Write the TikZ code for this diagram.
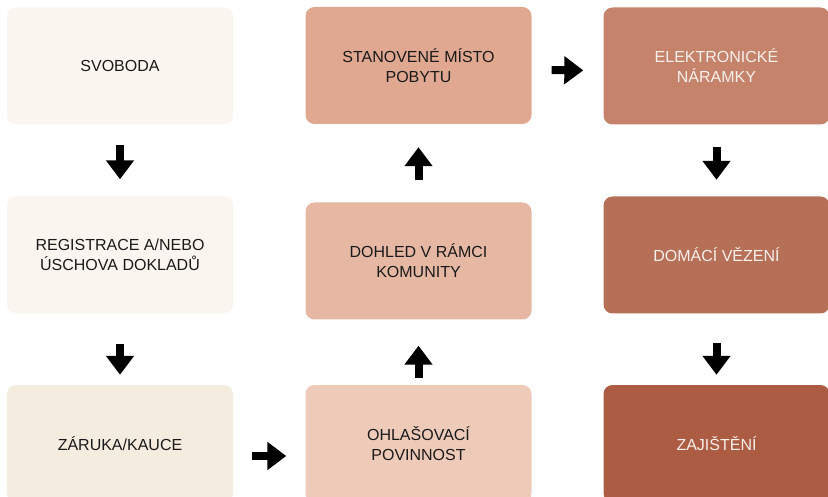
\documentclass[tikz,border=0pt]{standalone}
\usepackage{fontspec}
\setmainfont{Liberation Sans}
\usetikzlibrary{arrows.meta}

\definecolor{svobodabg}{HTML}{FAF5EF}
\definecolor{registracebg}{HTML}{FAF5EF}
\definecolor{zarukabg}{HTML}{F5ECE0}
\definecolor{stanovenebg}{HTML}{E0A890}
\definecolor{dohledbg}{HTML}{E6B8A4}
\definecolor{ohlasovacibg}{HTML}{EECAB9}
\definecolor{naramkybg}{HTML}{C4836A}
\definecolor{domacibg}{HTML}{B77058}
\definecolor{zajistenibg}{HTML}{AC5C42}
\definecolor{lighttext}{HTML}{F7F0EC}
\definecolor{darktext}{HTML}{1A1A1A}

\begin{document}
\begin{tikzpicture}[x=1pt,y=-1pt,
                    box/.style={rounded corners=9pt, minimum width=226pt, minimum height=117pt,
                                inner sep=0pt, align=center, text=darktext,
                                font=\fontsize{16}{20}\selectfont},
                    darkbox/.style={box, text=lighttext},
                    blockarrow/.style={line width=8pt, -{Triangle[width=27pt,length=19pt]}}]
                    \useasboundingbox (0,0) rectangle (828,497);
                    \clip (0,0) rectangle (828,497);
                
                    % first column
                    \node[box,fill=svobodabg]    (svoboda)    at (120,66)    {SVOBODA};
                    \node[box,fill=registracebg] (registrace) at (120,255)   {REGISTRACE A/NEBO\\ÚSCHOVA DOKLADŮ};
                    \node[box,fill=zarukabg]     (zaruka)     at (120,443.5) {ZÁRUKA/KAUCE};
                    
                    % second column
                    \node[box,fill=stanovenebg]  (stanovene)  at (418.5,65.5)  {STANOVENÉ MÍSTO\\POBYTU};
                    \node[box,fill=dohledbg]     (dohled)     at (418.5,261)   {DOHLED V RÁMCI\\KOMUNITY};
                    \node[box,fill=ohlasovacibg] (ohlasovaci) at (418.5,443.5) {OHLAŠOVACÍ\\POVINNOST};
                    
                    % third column
                    \node[darkbox,fill=naramkybg]   (naramky)   at (716.5,66)    {ELEKTRONICKÉ\\NÁRAMKY};
                    \node[darkbox,fill=domacibg]    (domaci)    at (716.5,255)   {DOMÁCÍ VĚZENÍ};
                    \node[darkbox,fill=zajistenibg] (zajisteni) at (716.5,443.5) {ZAJIŠTĚNÍ};
                    
                    \draw[blockarrow, shorten <=20.5pt, shorten >=17pt] (svoboda) -- (registrace);
                    \draw[blockarrow, shorten <=30pt,   shorten >=10pt] (registrace) -- (zaruka);
                    \draw[blockarrow, shorten <=19pt,   shorten >=19pt] ([yshift=-12.5pt]zaruka.east) -- ([yshift=-12.5pt]ohlasovaci.west);
                    \draw[blockarrow, shorten <=7pt,    shorten >=26pt] (ohlasovaci) -- (dohled);
                    \draw[blockarrow, shorten <=22pt,   shorten >=23pt] (dohled) -- (stanovene);
                    \draw[blockarrow, shorten <=20pt,   shorten >=20pt] ([yshift=-4.5pt]stanovene.east) -- ([yshift=-4.5pt]naramky.west);
                    \draw[blockarrow, shorten <=22.5pt, shorten >=16.5pt] (naramky) -- (domaci);
                    \draw[blockarrow, shorten <=29.5pt, shorten >=10pt] (domaci) -- (zajisteni);
                    
                \end{tikzpicture}
\end{document}
